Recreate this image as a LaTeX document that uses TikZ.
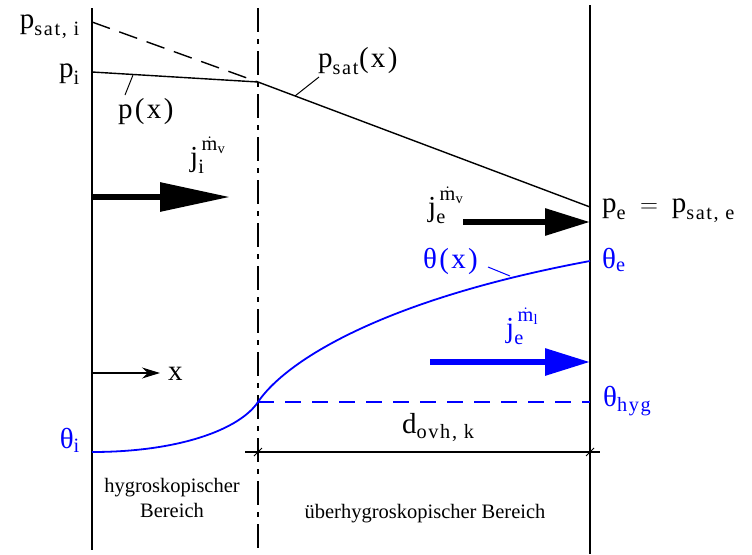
\documentclass[tikz,border=0pt]{standalone}
\usepackage{amsmath}
\usepackage{fontspec}
\setmainfont{Liberation Serif}
\newfontfamily\lblfont[LetterSpace=8]{Liberation Serif}
\usetikzlibrary{arrows.meta}
\newcommand{\jflux}[2]{$\text{j}_{\text{#1}}^{\,\raisebox{4pt}{$\scriptstyle\dot{\text{m}}_{\text{#2}}$}}$}

\begin{document}
\begin{tikzpicture}[x=1pt, y=-1pt,
        wall/.style={line width=2pt},
        grenze/.style={line width=2pt, dash pattern=on 24pt off 7pt on 5pt off 7pt},
        druck/.style={line width=1.4pt},
        feuchte/.style={blue, line width=1.8pt},
        lbl/.style={font=\lblfont\fontsize{29}{32}\selectfont, inner sep=0pt},
        lblblue/.style={lbl, text=blue},
        bereich/.style={font=\fontsize{20.5}{25}\selectfont, align=center, inner sep=0pt},
        flux/.style={line width=6pt, -{Triangle[length=45pt, width=26pt]}},
        leader/.style={line width=1pt},
        dimtick/.style={line width=1pt}
    ]
        \useasboundingbox (0,0) rectangle (752,554);

        % Walls and boundary
        \coordinate (wi-top) at (92,8);
        \coordinate (wi-bot) at (92,550);
        \coordinate (we-top) at (590,5);
        \coordinate (we-bot) at (590,554);
        \coordinate (gr-top) at (258,8);
        \coordinate (gr-bot) at (258,554);
        \draw[wall] (wi-top) -- (wi-bot);
        \draw[wall] (we-top) -- (we-bot);
        \draw[grenze] (gr-top) -- (gr-bot);

        % Vapour pressure
        \coordinate (psi) at (92,22);
        \coordinate (pi) at (92,72);
        \coordinate (pk) at (258,82);
        \coordinate (pe) at (590,207);
        \draw[druck, dash pattern=on 19pt off 10pt] (psi) -- (pk);
        \draw[druck] (pi) -- (pk) -- (pe);
        \node[lbl, anchor=base east] (psati) at (80,28) {$\text{p}_{\text{sat, i}}$};
        \node[lbl, anchor=base east] (plabi) at (80,77) {$\text{p}_{\text{i}}$};
        \node[lbl, anchor=base west] (px) at (118,118) {p(x)};
        \node[lbl, anchor=base west] (psatx) at (318,67) {$\text{p}_{\text{sat}}\text{(x)}$};
        \node[lbl, anchor=base west] (plabe) at (602,212) {$\text{p}_{\text{e}} \;=\; \text{p}_{\text{sat, e}}$};
        \draw[leader] (133,75) -- (125,95);
        \draw[leader] (319,77) -- (295,96);

        % Vapour fluxes
        \node[lbl, anchor=base west] (jiv) at (190,166) {\jflux{i}{v}};
        \node[lbl, anchor=base west] (jev) at (428,216) {\jflux{e}{v}};
        \draw[flux, -{Triangle[length=70pt, width=28pt]}] (wi-top |- 0,197) -- (230,197);
        \draw[flux] (463,222) -- (we-top |- 0,222);

        % Moisture content
        \coordinate (thi) at (92,452);
        \coordinate (thk) at (258,402);
        \coordinate (the) at (590,261);
        \draw[feuchte] (thi) .. controls (180,452) and (240,429) .. (thk)
            .. controls (285,362) and (380,300) .. (the);
        \draw[feuchte, dash pattern=on 16pt off 11pt] (thk) -- (we-top |- thk);
        \node[lblblue, anchor=base east] (thlabi) at (80,448) {$\text{θ}_{\text{i}}$};
        \node[lblblue, anchor=base west] (thlabe) at (602,268) {$\text{θ}_{\text{e}}$};
        \node[lblblue, anchor=base west] (thhyg) at (603,406) {$\text{θ}_{\text{hyg}}$};
        \node[lblblue, anchor=base west] (thx) at (423,268) {θ(x)};
        \draw[leader, blue] (488,267) -- (510,276);

        % Liquid flux
        \node[lblblue, anchor=base west] (jel) at (506,337) {\jflux{e}{l}};
        \draw[flux, blue] (430,362) -- (we-top |- 0,362);

        % x direction
        \draw[line width=1.4pt, -{Stealth[length=18pt, width=11pt]}] (wi-top |- 0,373) -- (160,373);
        \node[lbl, anchor=base west] (xlab) at (168,380) {x};

        % Dimension
        \coordinate (dim-l) at (245,452);
        \coordinate (dim-r) at (600,452);
        \draw[line width=1.4pt] (dim-l) -- (dim-r);
        \draw[dimtick] (254,456) -- (262,448);
        \draw[dimtick] (586,456) -- (594,448);
        \node[lbl, anchor=base west] (dovh) at (402,433) {$\text{d}_{\text{ovh, k}}$};

        % Regions
        \node[bereich, anchor=base] (hyg) at (172,517) {hygroskopischer\\Bereich};
        \node[bereich, anchor=base] (ueber) at (425,518) {überhygroskopischer Bereich};
    \end{tikzpicture}
\end{document}
